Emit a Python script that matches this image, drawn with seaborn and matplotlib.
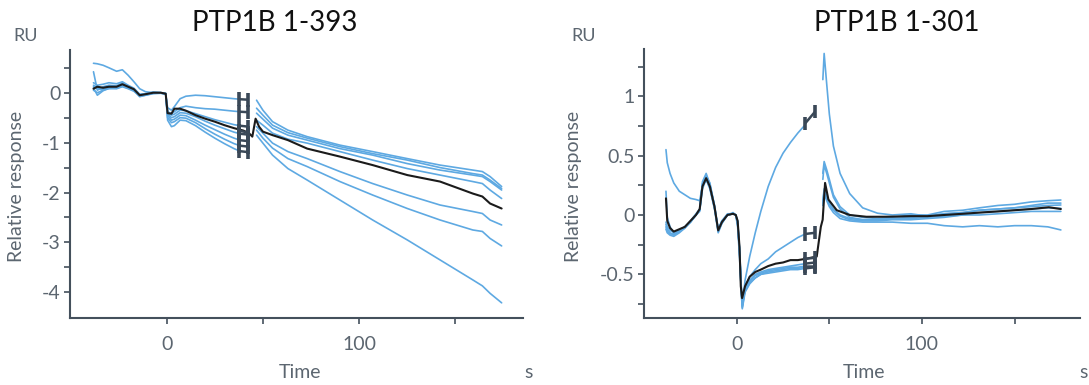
import numpy as np
import pandas as pd
import matplotlib
matplotlib.use("Agg")
import matplotlib.pyplot as plt
from matplotlib.ticker import FixedLocator, FixedFormatter
import seaborn as sns

# ---------------- data: left panel (PTP1B 1-393) ----------------
L_TITLE = "PTP1B 1-393"
L_PRE_T = [-38, -36, -33, -30, -26, -23, -20, -17, -14, -11, -7, -3, -0.5, 0.5, 2.5,
           4, 7, 10, 15, 20, 25, 30, 35, 38]
L_BLUE_PRE = {
    "A": [0.59, 0.58, 0.55, 0.50, 0.43, 0.46, 0.35, 0.22, 0.08, 0.02, 0.00, 0.00, -0.02, -0.30, -0.35,
          -0.28, -0.12, -0.07, -0.05, -0.06, -0.08, -0.10, -0.12, -0.13],
    "B": [0.42, 0.05, 0.12, 0.15, 0.14, 0.20, 0.13, 0.08, -0.04, -0.02, 0.01, 0.00, -0.02, -0.38, -0.42,
          -0.38, -0.30, -0.27, -0.30, -0.32, -0.33, -0.35, -0.37, -0.38],
    "C": [0.20, 0.15, 0.17, 0.20, 0.18, 0.22, 0.15, 0.09, -0.03, -0.02, 0.01, 0.00, -0.01, -0.40, -0.45,
          -0.43, -0.35, -0.36, -0.42, -0.48, -0.54, -0.59, -0.64, -0.66],
    "D": [0.12, 0.08, 0.06, 0.10, 0.10, 0.14, 0.10, 0.05, -0.07, -0.05, -0.01, -0.01, -0.03, -0.42, -0.50,
          -0.48, -0.40, -0.41, -0.48, -0.57, -0.65, -0.72, -0.79, -0.82],
    "E": [0.05, 0.00, 0.05, 0.08, 0.09, 0.13, 0.09, 0.04, -0.08, -0.05, -0.02, -0.01, -0.03, -0.45, -0.55,
          -0.53, -0.45, -0.46, -0.55, -0.65, -0.74, -0.83, -0.91, -0.95],
    "F": [0.15, 0.10, 0.08, 0.13, 0.13, 0.16, 0.11, 0.06, -0.05, -0.04, 0.00, 0.00, -0.02, -0.50, -0.60,
          -0.58, -0.50, -0.51, -0.60, -0.72, -0.83, -0.93, -1.02, -1.06],
    "G": [0.10, -0.05, 0.04, 0.09, 0.08, 0.12, 0.08, 0.03, -0.06, -0.04, -0.01, 0.00, -0.02, -0.55, -0.68,
          -0.66, -0.55, -0.56, -0.66, -0.79, -0.91, -1.02, -1.12, -1.17],
}
L_DIS_T = [46.7, 50, 55, 63, 73, 90, 107, 125, 142, 159, 164, 168, 174]
L_BLUE_DIS = {
    "A": [-0.15, -0.35, -0.58, -0.75, -0.88, -1.05, -1.18, -1.32, -1.45, -1.55, -1.58, -1.68, -1.88],
    "B": [-0.31, -0.45, -0.65, -0.80, -0.91, -1.08, -1.22, -1.35, -1.50, -1.62, -1.65, -1.75, -1.92],
    "C": [-0.41, -0.53, -0.71, -0.85, -0.95, -1.12, -1.25, -1.42, -1.55, -1.65, -1.68, -1.78, -1.95],
    "D": [-0.55, -0.65, -0.81, -0.93, -1.01, -1.18, -1.35, -1.52, -1.65, -1.78, -1.82, -1.95, -2.12],
    "E": [-0.68, -0.81, -1.01, -1.18, -1.32, -1.58, -1.82, -2.05, -2.25, -2.38, -2.42, -2.55, -2.65],
    "F": [-0.75, -0.91, -1.11, -1.32, -1.48, -1.78, -2.05, -2.32, -2.55, -2.75, -2.78, -2.92, -3.07],
    "G": [-0.85, -1.01, -1.25, -1.52, -1.75, -2.15, -2.55, -2.95, -3.35, -3.75, -3.87, -4.02, -4.21],
}
L_BLACK_T = [-38, -36, -33, -30, -26, -23, -20, -17, -14, -11, -7, -3, -0.5, 0.5, 2.5, 4, 7, 10, 15,
             20, 25, 30, 35, 40, 43, 44.5, 46.2, 48, 50, 55, 63, 73, 90, 107, 125, 142, 159, 164, 168, 174]
L_BLACK_V = [0.08, 0.12, 0.10, 0.12, 0.12, 0.17, 0.12, 0.07, -0.05, -0.03, 0.00, 0.00, -0.02, -0.41,
             -0.42, -0.32, -0.32, -0.36, -0.45, -0.52, -0.58, -0.65, -0.71, -0.76, -0.82, -0.88, -0.52,
             -0.68, -0.78, -0.85, -0.95, -1.12, -1.28, -1.45, -1.65, -1.78, -2.02, -2.08, -2.22, -2.32]
L_MARK_T = [37.7, 42.4]
L_MARK_V1 = [-0.13, -0.38, -0.66, -0.76, -0.82, -0.95, -1.06, -1.17]
L_MARK_V2 = [-0.14, -0.39, -0.68, -0.80, -0.84, -0.97, -1.08, -1.19]
L_XTICKS = [0, 100]
L_XMINOR = [50, 150]
L_YTICKS = [-4, -3, -2, -1, 0]
L_YLABELS = ["-4", "-3", "-2", "-1", "0"]
L_YMINOR = [-3.5, -2.5, -1.5, -0.5, 0.5]

# ---------------- data: right panel (PTP1B 1-301) ----------------
R_TITLE = "PTP1B 1-301"
R_PRE_T = [-38.2, -37.5, -36, -34, -31, -28, -25, -22, -20, -18.5, -16.5, -14.5, -12, -10, -8, -5,
           -2, -0.5, 0.5, 1.5, 2.5, 3, 4.5, 7, 10, 13, 17, 21, 25, 29, 33, 37]
R_BLUE_PRE = {
    "P": [0.55, 0.44, 0.35, 0.27, 0.20, 0.17, 0.14, 0.13, 0.12, 0.25, 0.30, 0.23, 0.06, -0.12, -0.05, 0.00,
          0.01, 0.00, -0.10, -0.35, -0.65, -0.77, -0.55, -0.35, -0.15, 0.03, 0.24, 0.40, 0.52, 0.61, 0.69, 0.76],
    "Q": [0.20, -0.02, -0.10, -0.15, -0.13, -0.10, -0.06, 0.00, 0.04, 0.26, 0.33, 0.25, 0.08, -0.14, -0.07, 0.00,
          0.01, 0.00, -0.08, -0.30, -0.65, -0.75, -0.60, -0.52, -0.46, -0.41, -0.37, -0.31, -0.27, -0.23, -0.19, -0.16],
    "R": [-0.08, -0.12, -0.15, -0.17, -0.14, -0.11, -0.06, 0.00, 0.03, 0.22, 0.30, 0.22, 0.05, -0.15, -0.07, 0.00,
          0.01, 0.00, -0.06, -0.30, -0.65, -0.78, -0.63, -0.55, -0.50, -0.48, -0.46, -0.45, -0.44, -0.43, -0.42, -0.41],
    "S": [-0.10, -0.14, -0.16, -0.16, -0.13, -0.10, -0.05, 0.01, 0.05, 0.26, 0.33, 0.27, 0.08, -0.12, -0.05, 0.01,
          0.01, 0.00, -0.06, -0.28, -0.62, -0.76, -0.62, -0.56, -0.51, -0.49, -0.47, -0.46, -0.45, -0.44, -0.44, -0.43],
    "T": [-0.12, -0.15, -0.17, -0.18, -0.15, -0.11, -0.06, 0.00, 0.04, 0.28, 0.35, 0.26, 0.07, -0.13, -0.06, 0.00,
          0.02, 0.00, -0.05, -0.28, -0.62, -0.75, -0.64, -0.57, -0.53, -0.50, -0.49, -0.48, -0.47, -0.46, -0.46, -0.45],
    "U": [-0.06, -0.10, -0.13, -0.15, -0.13, -0.10, -0.06, 0.00, 0.04, 0.24, 0.32, 0.24, 0.06, -0.13, -0.06, 0.00,
          0.01, 0.00, -0.07, -0.30, -0.66, -0.79, -0.65, -0.58, -0.53, -0.50, -0.48, -0.47, -0.46, -0.45, -0.45, -0.44],
}
R_DIS_T = [46.5, 47.2, 48.6, 50, 52.2, 55.8, 61, 68, 76, 84, 94, 103, 112, 122, 131, 141, 150, 159, 168, 175]
R_BLUE_DIS = {
    "P": [1.14, 1.36, 1.10, 0.85, 0.58, 0.35, 0.18, 0.06, 0.015, 0.00, 0.01, -0.01, 0.01, 0.02, 0.04, 0.05, 0.06, 0.08, 0.10, 0.10],
    "Q": [0.35, 0.45, 0.38, 0.30, 0.17, 0.07, 0.00, -0.02, -0.03, -0.02, 0.00, 0.00, 0.03, 0.04, 0.06, 0.08, 0.09, 0.11, 0.12, 0.126],
    "R": [0.30, 0.42, 0.35, 0.27, 0.15, 0.05, -0.02, -0.04, -0.04, -0.03, -0.02, -0.01, 0.01, 0.02, 0.04, 0.05, 0.06, 0.07, 0.08, 0.084],
    "S": [0.12, 0.22, 0.16, 0.10, 0.05, 0.00, -0.03, -0.04, -0.04, -0.03, -0.03, -0.02, -0.01, 0.00, 0.02, 0.03, 0.04, 0.05, 0.06, 0.056],
    "T": [0.10, 0.20, 0.14, 0.09, 0.04, -0.01, -0.04, -0.05, -0.05, -0.04, -0.04, -0.03, -0.02, 0.00, 0.00, 0.01, 0.02, 0.03, 0.03, 0.03],
    "U": [0.08, 0.18, 0.12, 0.07, 0.02, -0.03, -0.05, -0.06, -0.06, -0.06, -0.07, -0.07, -0.09, -0.10, -0.09, -0.10, -0.09, -0.09, -0.10, -0.126],
}
R_BLACK_T = [-38.2, -37.5, -36, -34, -31, -28, -25, -22, -20, -18.5, -16.5, -14.5, -12, -10, -8, -5,
             -2, -0.5, 0.5, 1.5, 2.2, 2.9, 4.5, 7, 10, 13, 17, 21, 25, 29, 33, 37, 40, 43.2, 45.4,
             46.4, 47.7, 49.5, 54, 61, 70, 79, 84, 94, 103, 112, 122, 131, 141, 150, 159, 168.5, 175]
R_BLACK_V = [0.14, -0.05, -0.11, -0.14, -0.12, -0.10, -0.05, 0.00, 0.05, 0.24, 0.31, 0.24, 0.07, -0.13,
             -0.06, 0.00, 0.01, 0.00, -0.05, -0.27, -0.60, -0.70, -0.60, -0.52, -0.48, -0.46, -0.43,
             -0.41, -0.40, -0.38, -0.38, -0.37, -0.36, -0.35, -0.10, -0.04, 0.27, 0.13, 0.04, 0.00,
             -0.015, -0.015, -0.014, -0.01, -0.01, 0.00, 0.01, 0.02, 0.03, 0.04, 0.05, 0.065, 0.05]
R_MARK_T = [36.9, 42.3]
R_MARK_V1 = [0.77, -0.16, -0.37, -0.41, -0.43, -0.45]
R_MARK_V2 = [0.87, -0.15, -0.36, -0.40, -0.43, -0.44]
R_XTICKS = [0, 100]
R_XMINOR = [50, 150]
R_YTICKS = [-0.5, 0, 0.5, 1]
R_YLABELS = ["-0.5", "0", "0.5", "1"]
R_YMINOR = [-0.75, -0.25, 0.25, 0.75, 1.25]

# ---------------- style ----------------
sns.set_style("white")
plt.rcParams["font.family"] = ["Lato", "DejaVu Sans"]
plt.rcParams["axes.unicode_minus"] = False

BLUE = "#5ea9e2"
BLACK = "#1b1b1b"
MARK = "#3a4857"
AXC = "#44505c"
TXT = "#5c6670"


def long_df(t, series):
    rows = []
    for name, vals in series.items():
        for ti, vi in zip(t, vals):
            rows.append((ti, vi, name))
    return pd.DataFrame(rows, columns=["t", "v", "curve"])


def panel(ax, pre_t, blue_pre, dis_t, blue_dis, black_t, black_v, mark_t, mv1, mv2, bar_h,
          xlim, ylim, xt, xmin, yt, ylab, ymin):
    d1 = long_df(pre_t, blue_pre)
    d2 = long_df(dis_t, blue_dis)
    sns.lineplot(data=d1, x="t", y="v", units="curve", estimator=None, color=BLUE, lw=1.2,
                 ax=ax, legend=False, sort=False)
    sns.lineplot(data=d2, x="t", y="v", units="curve", estimator=None, color=BLUE, lw=1.2,
                 ax=ax, legend=False, sort=False)
    sns.lineplot(x=black_t, y=black_v, color=BLACK, lw=1.5, ax=ax, legend=False, sort=False)
    for a, b in zip(mv1, mv2):
        ax.plot(mark_t, [a, b], color=MARK, lw=1.8, solid_capstyle="butt")
        ax.plot([mark_t[0], mark_t[0]], [a - bar_h, a + bar_h], color=MARK, lw=2.6, solid_capstyle="butt")
        ax.plot([mark_t[1], mark_t[1]], [b - bar_h, b + bar_h], color=MARK, lw=2.6, solid_capstyle="butt")
    ax.set_xlim(*xlim)
    ax.set_ylim(*ylim)
    ax.xaxis.set_major_locator(FixedLocator(xt))
    ax.xaxis.set_major_formatter(FixedFormatter([str(v) for v in xt]))
    ax.xaxis.set_minor_locator(FixedLocator(xmin))
    ax.yaxis.set_major_locator(FixedLocator(yt))
    ax.yaxis.set_major_formatter(FixedFormatter(ylab))
    ax.yaxis.set_minor_locator(FixedLocator(ymin))
    for s in ["top", "right"]:
        ax.spines[s].set_visible(False)
    for s in ["left", "bottom"]:
        ax.spines[s].set_color(AXC)
        ax.spines[s].set_linewidth(1.5)
    ax.tick_params(axis="both", which="both", direction="out", length=4, width=1.2, color=AXC,
                   labelcolor=TXT, labelsize=14, left=True, bottom=True)
    ax.tick_params(axis="x", which="major", pad=9)
    ax.tick_params(axis="y", which="major", pad=3)
    ax.set_xlabel("")
    ax.set_ylabel("")


fig = plt.figure(figsize=(10.89, 3.85), dpi=100)
W, H = 1089.0, 385.0
axL = fig.add_axes([70 / W, 1 - 318.3 / H, (523 - 70) / W, (318.3 - 50) / H])
axR = fig.add_axes([644.3 / W, 1 - 318.3 / H, (1080.3 - 644.3) / W, (318.3 - 49.3) / H])

panel(axL, L_PRE_T, L_BLUE_PRE, L_DIS_T, L_BLUE_DIS, L_BLACK_T, L_BLACK_V, L_MARK_T,
      L_MARK_V1, L_MARK_V2, 0.14, (-50.2, 185.1), (-4.52, 0.856),
      L_XTICKS, L_XMINOR, L_YTICKS, L_YLABELS, L_YMINOR)
panel(axR, R_PRE_T, R_BLUE_PRE, R_DIS_T, R_BLUE_DIS, R_BLACK_T, R_BLACK_V, R_MARK_T,
      R_MARK_V1, R_MARK_V2, 0.055, (-49.9, 185.5), (-0.87, 1.395),
      R_XTICKS, R_XMINOR, R_YTICKS, R_YLABELS, R_YMINOR)


def ftext(x, y, s, **kw):
    fig.text(x / W, 1 - y / H, s, **kw)


ftext(275, 23, L_TITLE, fontsize=20, color="#111111", ha="center", va="center")
ftext(897, 23, R_TITLE, fontsize=20, color="#111111", ha="center", va="center")
for cx, sx, ylx, rux, ycen in [(300, 529, 17, 26, 186), (864, 1084, 573, 584, 186)]:
    ftext(cx, 372, "Time", fontsize=14, color=TXT, ha="center", va="center")
    ftext(sx, 372, "s", fontsize=14, color=TXT, ha="center", va="center")
    ftext(ylx, ycen, "Relative response", fontsize=14, color=TXT, ha="center", va="center",
          rotation=90)
    ftext(rux, 36, "RU", fontsize=13, color=TXT, ha="center", va="center")

fig.savefig("out.png", dpi=100)
